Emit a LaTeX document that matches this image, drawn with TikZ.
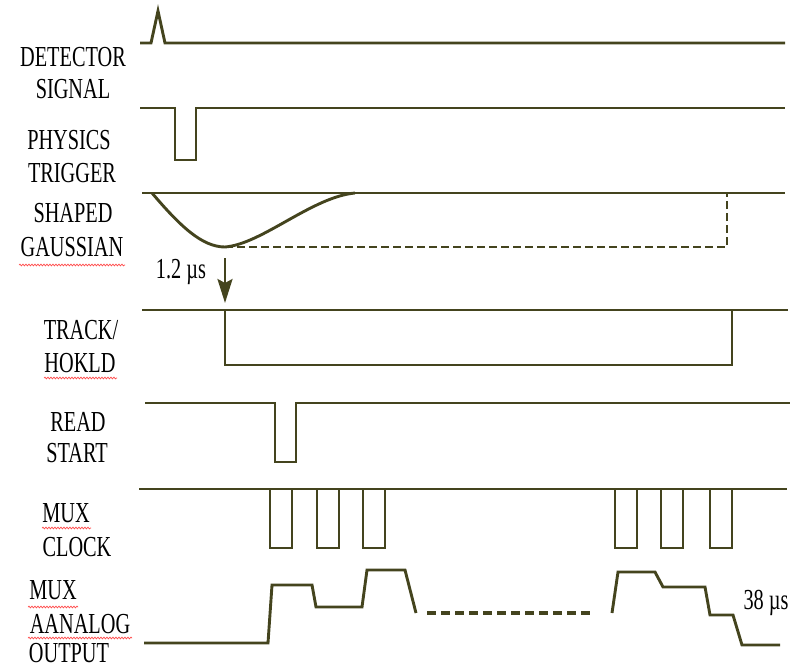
\documentclass[tikz,border=0pt]{standalone}
\usepackage{fontspec}
\setmainfont{Liberation Serif}
\usetikzlibrary{arrows.meta,decorations.pathmorphing}
\definecolor{olive}{RGB}{68,68,30}
\tikzset{
  sig/.style={draw=olive,line width=2.9pt,line join=miter},
  lab/.style={inner sep=0pt,font=\fontsize{29}{32}\selectfont,text=black},
  squig/.style={draw=red!70,line width=0.7pt,decorate,decoration={snake,segment length=3pt,amplitude=0.9pt}},
}
\newcommand{\nar}[1]{\scalebox{0.7}[1]{#1}}
\begin{document}
\begin{tikzpicture}[x=1pt,y=-1pt]
\useasboundingbox (0,0) rectangle (802,668);
% labels
\node[lab] (l1) at (73,57) {\nar{DETECTOR}};
\node[lab] (l2) at (73,89) {\nar{SIGNAL}};
\node[lab] (l3) at (69,140) {\nar{PHYSICS}};
\node[lab] (l4) at (72,173) {\nar{TRIGGER}};
\node[lab] (l5) at (73,213) {\nar{SHAPED}};
\node[lab] (l6) at (72,247) {\nar{GAUSSIAN}};
\node[lab] (l7) at (81,330) {\nar{TRACK/}};
\node[lab] (l8) at (80,363) {\nar{HOKLD}};
\node[lab] (l9) at (78,422) {\nar{READ}};
\node[lab] (l10) at (77,453) {\nar{START}};
\node[lab] (l11) at (66,513) {\nar{MUX}};
\node[lab] (l12) at (77,547) {\nar{CLOCK}};
\node[lab] (l13) at (53,590) {\nar{MUX}};
\node[lab] (l14) at (80,624) {\nar{AANALOG}};
\node[lab] (l15) at (69,653) {\nar{OUTPUT}};
\node[lab] (t1) at (181,272) {\nar{1.2 µs}};
\node[lab] (t2) at (766,603) {\nar{38 µs}};
% spell-check squiggles
\draw[squig] (19,265) -- (125,265);
\draw[squig] (44,378) -- (117,378);
\draw[squig] (42,528) -- (91,528);
\draw[squig] (28,607) -- (78,607);
\draw[squig] (28,638) -- (132,638);
% detector signal
\draw[sig] (140,43) -- (151,43) -- (158,11) -- (165,43) -- (785,43);
% physics trigger
\draw[sig] (140,108) -- (175,108) -- (175,160) -- (196,160) -- (196,108) -- (785,108);
% shaped gaussian
\draw[sig] (142,193) -- (785,193);
\draw[sig] (152,193) .. controls (180,226) and (202,247) .. (225,247)
  .. controls (262,244) and (312,197) .. (355,193);
\draw[sig,line width=2.6pt,dash pattern=on 8pt off 4pt] (225,247) -- (727,247) -- (727,193);
% arrow
\draw[draw=olive,fill=olive,line width=2.6pt,-{Stealth[length=24pt,width=15pt,inset=4pt]}] (225,258) -- (225,303);
% track/hold
\draw[sig] (142,310) -- (788,310);
\draw[sig] (225,310) -- (225,365) -- (732,365) -- (732,310);
% read start
\draw[sig] (145,403) -- (275,403) -- (275,462) -- (296,462) -- (296,403) -- (790,403);
% mux clock
\draw[sig] (139,489) -- (787,489);
\foreach \a/\b in {270/292,317/339,363/385,615/637,661/683,710/732}
  \draw[sig] (\a,489) -- (\a,548) -- (\b,548) -- (\b,489);
% mux analog output
\draw[sig] (144,643) -- (268,643) -- (272,585) -- (312,585) -- (316,607) -- (362,607)
  -- (367,570) -- (405,570) -- (416,613);
\draw[sig,line width=3.6pt,dash pattern=on 9pt off 5pt] (427,613) -- (592,613);
\draw[sig] (612,613) -- (618,572) -- (655,572) -- (663,587) -- (705,587) -- (710,615)
  -- (733,615) -- (742,645) -- (780,645);
\end{tikzpicture}
\end{document}
